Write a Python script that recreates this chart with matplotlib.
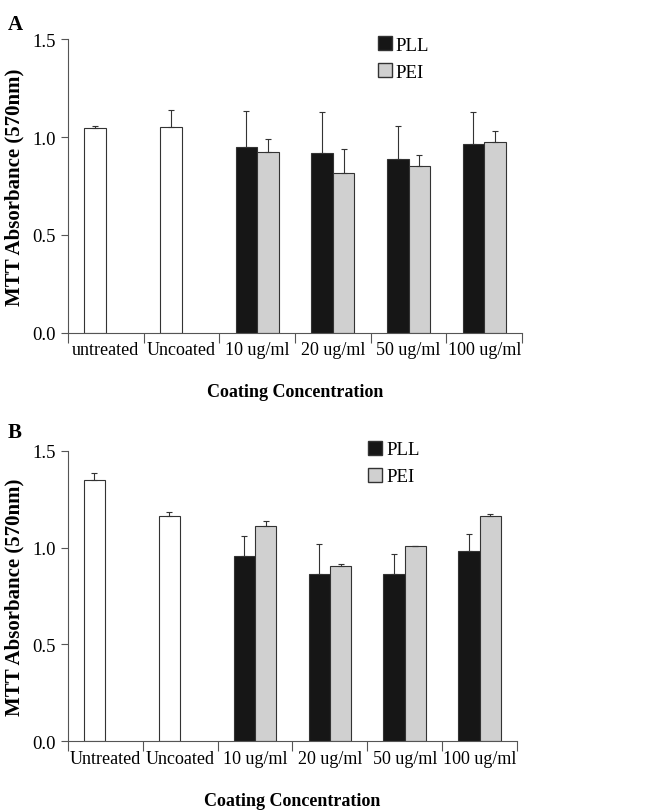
import matplotlib.pyplot as plt
from matplotlib.patches import Patch
import numpy as np

plt.rcParams['font.family'] = 'Liberation Serif'

# panel A
cats_a = ['untreated', 'Uncoated', '10 ug/ml', '20 ug/ml', '50 ug/ml', '100 ug/ml']
ctrl_a = [1.045, 1.052]
ctrl_a_err = [0.009, 0.087]
pll_a = [0.949, 0.918, 0.887, 0.964]
pll_a_err = [0.186, 0.212, 0.170, 0.166]
pei_a = [0.921, 0.816, 0.854, 0.977]
pei_a_err = [0.070, 0.122, 0.054, 0.055]

# panel B
cats_b = ['Untreated', 'Uncoated', '10 ug/ml', '20 ug/ml', '50 ug/ml', '100 ug/ml']
ctrl_b = [1.347, 1.165]
ctrl_b_err = [0.036, 0.017]
pll_b = [0.956, 0.864, 0.864, 0.982]
pll_b_err = [0.102, 0.153, 0.101, 0.086]
pei_b = [1.111, 0.907, 1.008, 1.163]
pei_b_err = [0.028, 0.006, 0.002, 0.012]

W = 0.285
edge = '#333333'
ekw = dict(ecolor='#333333', elinewidth=0.8, capsize=2.5, capthick=0.8)


def panel(ax, cats, ctrl, ctrl_err, pll, pll_err, pei, pei_err, leg_anchor):
    x = np.arange(len(cats))
    xc = x[:2]
    xt = x[2:]
    ax.bar(xc - W / 2, ctrl, W, color='white', edgecolor=edge, linewidth=0.8,
           yerr=[np.zeros(len(ctrl)), ctrl_err], error_kw=ekw, zorder=2)
    ax.bar(xt - W / 2, pll, W, color='#161616', edgecolor=edge, linewidth=0.8,
           yerr=[np.zeros(len(pll)), pll_err], error_kw=ekw, zorder=2)
    ax.bar(xt + W / 2, pei, W, color='#d0d0d0', edgecolor=edge, linewidth=0.8,
           yerr=[np.zeros(len(pei)), pei_err], error_kw=ekw, zorder=2)

    ax.set_xlim(-0.5, len(cats) - 0.5)
    ax.set_ylim(0, 1.5)
    ax.set_yticks([0, 0.5, 1.0, 1.5])
    ax.set_yticklabels(['0.0', '0.5', '1.0', '1.5'])
    ax.set_xticks(np.arange(len(cats) + 1) - 0.5)
    ax.set_xticklabels([])
    ax.set_xticks(x, minor=True)
    ax.set_xticklabels(cats, minor=True)
    ax.tick_params(axis='x', which='major', length=7, width=0.8, color='#555555')
    ax.tick_params(axis='x', which='minor', length=0, labelsize=13, pad=6)
    ax.tick_params(axis='y', length=5, width=0.8, color='#555555', labelsize=13.5)
    for s in ['top', 'right']:
        ax.spines[s].set_visible(False)
    for s in ['left', 'bottom']:
        ax.spines[s].set_color('#555555')
        ax.spines[s].set_linewidth(0.8)
    ax.set_xlabel('Coating Concentration', fontsize=13, fontweight='bold', labelpad=18)
    ax.set_ylabel('MTT Absorbance (570nm)', fontsize=15, fontweight='bold', labelpad=6)

    handles = [Patch(facecolor='#161616', edgecolor=edge, label='PLL'),
               Patch(facecolor='#d0d0d0', edgecolor=edge, label='PEI')]
    ax.legend(handles=handles, loc='upper left', bbox_to_anchor=leg_anchor,
              frameon=False, fontsize=13.5, handlelength=0.75, handleheight=0.8,
              handletextpad=0.2, labelspacing=0.5, borderaxespad=0, borderpad=0)


fig = plt.figure(figsize=(6.48, 8.12), dpi=100)
ax1 = fig.add_axes([0.105, 0.5887, 0.7006, 0.362])
ax2 = fig.add_axes([0.1045, 0.0858, 0.6935, 0.3579])

panel(ax1, cats_a, ctrl_a, ctrl_a_err, pll_a, pll_a_err, pei_a, pei_a_err, (0.683, 1.01))
panel(ax2, cats_b, ctrl_b, ctrl_b_err, pll_b, pll_b_err, pei_b, pei_b_err, (0.669, 1.035))

fig.text(0.012, 1 - 25 / 812, 'A', fontsize=15, fontweight='bold', va='center')
fig.text(0.012, 1 - 433 / 812, 'B', fontsize=15, fontweight='bold', va='center')

fig.savefig('out.png', dpi=100)
